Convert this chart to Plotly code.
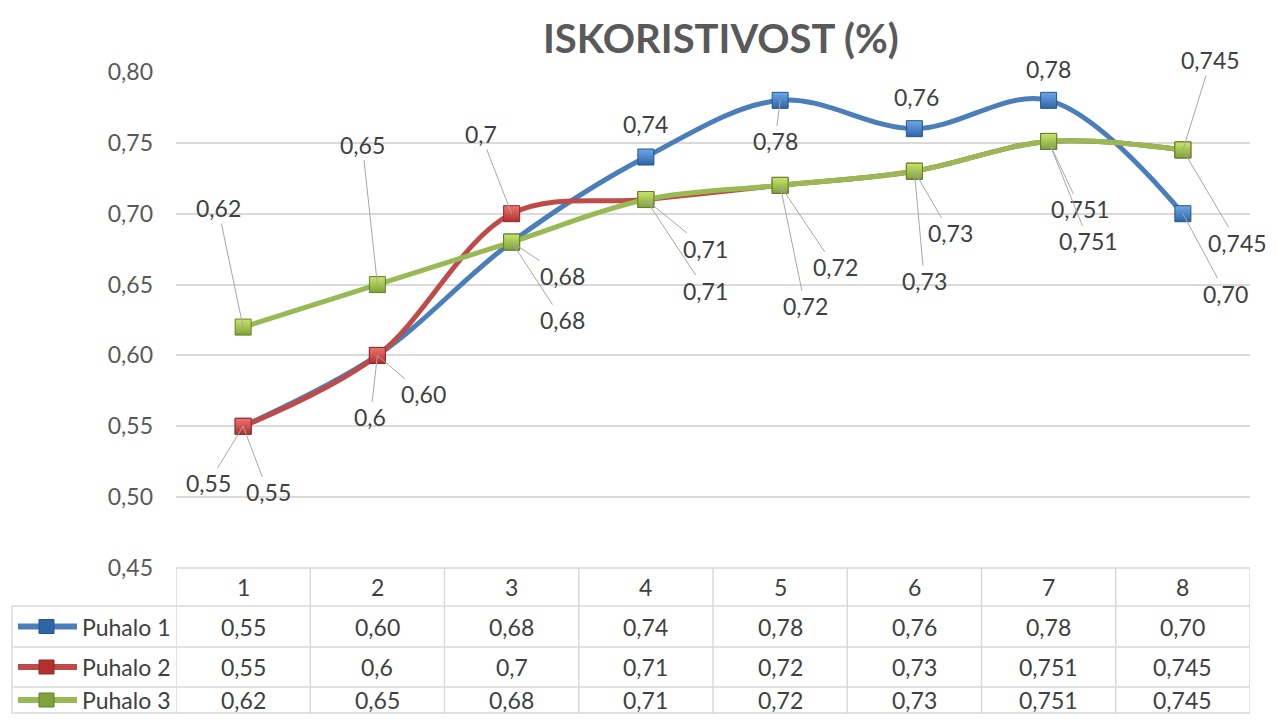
import plotly.graph_objects as go

# Datos
categorias = [1, 2, 3, 4, 5, 6, 7, 8]
puhalo_1 = [0.55, 0.60, 0.68, 0.74, 0.78, 0.76, 0.78, 0.70]
puhalo_2 = [0.55, 0.6, 0.7, 0.71, 0.72, 0.73, 0.751, 0.745]
puhalo_3 = [0.62, 0.65, 0.68, 0.71, 0.72, 0.73, 0.751, 0.745]
nombres = ["Puhalo 1", "Puhalo 2", "Puhalo 3"]
y_ticks = [0.45, 0.50, 0.55, 0.60, 0.65, 0.70, 0.75, 0.80]

# la página añade 8 px de margen alrededor del gráfico
W, H, OFF = 1277, 722, 8
FW, FH = W - 2 * OFF, H - 2 * OFF


def px(v):
    return (v - OFF) / FW


def py(v):
    return 1 - (v - OFF) / FH


def fmt(v, fijo):
    s = f"{v:.2f}" if fijo else repr(v)
    return s.replace(".", ",")


series = [
    dict(y=puhalo_1, fijo=True, line="#4a7ebb", mk="#6ea6e6", mk2="#2f65a8", borde="#25548c"),
    dict(y=puhalo_2, fijo=False, line="#be4b48", mk="#f07470", mk2="#b3302c", borde="#8c2a27"),
    dict(y=puhalo_3, fijo=False, line="#98b954", mk="#c8e66a", mk2="#7fa23a", borde="#637f2c"),
]

# desplazamiento (px) de cada etiqueta respecto al punto; 0 = sin línea guía
offsets = [
    [(25, 66, 1), (46, 39, 1), (51, 78, 1), (0, -33, 0), (-5, 41, 1), (2, -32, 0), (0, -31, 0), (43, 80, 1)],
    [(-35, 57, 1), (-7, 62, 1), (-31, -80, 1), (60, 49, 1), (55, 82, 1), (36, 62, 1), (32, 68, 1), (28, -90, 1)],
    [(-25, -119, 1), (-15, -140, 1), (51, 34, 1), (60, 91, 1), (25, 121, 1), (10, 110, 1), (40, 100, 1), (55, 93, 1)],
]

fuente = dict(family="Lato", size=23, color="#404040")

fig = go.Figure()
anotaciones = []
formas = []

for s, nombre, offs in zip(series, nombres, offsets):
    fig.add_trace(go.Scatter(
        x=categorias,
        y=s["y"],
        mode="lines+markers",
        name=nombre,
        line=dict(color=s["line"], width=5, shape="spline", smoothing=1),
        marker=dict(
            symbol="square",
            size=16,
            color=s["mk"],
            gradient=dict(type="vertical", color=s["mk2"]),
            line=dict(color=s["borde"], width=1),
        ),
        showlegend=False,
    ))
    for xi, v, (ax, ay, guia) in zip(categorias, s["y"], offs):
        anotaciones.append(dict(
            x=xi, y=v, xref="x", yref="y",
            text=fmt(v, s["fijo"]),
            showarrow=True, arrowhead=0, arrowwidth=1, standoff=0,
            arrowcolor="#a6a6a6" if guia else "rgba(0,0,0,0)",
            ax=ax, ay=ay,
            font=fuente,
        ))

# Tabla de datos
gris = "#d9d9d9"
filas = [(606, 647), (647, 687), (687, 713)]
for k in range(len(categorias) + 1):
    formas.append(dict(type="line", xref="x", yref="paper", x0=k + 0.5, x1=k + 0.5,
                       y0=py(568), y1=py(721), line=dict(color=gris, width=1.5)))
formas.append(dict(type="line", xref="paper", yref="paper", x0=px(12), x1=px(12),
                   y0=py(606), y1=py(721), line=dict(color=gris, width=1.5)))
formas.append(dict(type="line", xref="paper", yref="paper", x0=px(176), x1=px(1250),
                   y0=py(568), y1=py(568), line=dict(color=gris, width=1.5)))
for yy in [606, 647, 687, 713]:
    formas.append(dict(type="line", xref="paper", yref="paper", x0=px(12), x1=px(1250),
                       y0=py(yy), y1=py(yy), line=dict(color=gris, width=1.5)))

for xi in categorias:
    anotaciones.append(dict(x=xi, y=py(587), xref="x", yref="paper", text=str(xi),
                            xanchor="center", yanchor="middle", showarrow=False, font=fuente))

for s, nombre, (y0, y1) in zip(series, nombres, filas):
    yc = (y0 + y1) / 2
    formas.append(dict(type="line", xref="paper", yref="paper", x0=px(18), x1=px(77),
                       y0=py(yc), y1=py(yc), line=dict(color=s["line"], width=6)))
    formas.append(dict(type="rect", xref="paper", yref="paper", x0=px(39), x1=px(54),
                       y0=py(yc - 7), y1=py(yc + 7), fillcolor=s["mk2"],
                       line=dict(color=s["borde"], width=1)))
    anotaciones.append(dict(x=px(80), y=py(yc), xref="paper", yref="paper", text=nombre,
                            xanchor="left", yanchor="middle", showarrow=False, font=fuente))
    for xi, v in zip(categorias, s["y"]):
        anotaciones.append(dict(x=xi, y=py(yc), xref="x", yref="paper", text=fmt(v, s["fijo"]),
                                xanchor="center", yanchor="middle", showarrow=False, font=fuente))

# Título
anotaciones.append(dict(x=px(721), y=py(38), xref="paper", yref="paper",
                        text="<b>ISKORISTIVOST (%)</b>", showarrow=False,
                        xanchor="center", yanchor="middle",
                        font=dict(family="Lato", size=40, color="#595959")))

fig.update_layout(
    width=FW, height=FH,
    margin=dict(l=0, r=0, t=0, b=0, autoexpand=False),
    plot_bgcolor="white",
    paper_bgcolor="white",
    separators=",.",
    xaxis=dict(
        domain=[px(176), px(1250)],
        range=[0.5, 8.5],
        automargin=False,
        showticklabels=False, showgrid=False, zeroline=False, showline=False,
    ),
    yaxis=dict(
        domain=[py(568), py(72)],
        range=[0.45, 0.80],
        automargin=False,
        tickvals=y_ticks,
        tickformat=".2f",
        ticklabelstandoff=22,
        tickfont=dict(family="Lato", size=23, color="#595959"),
        showgrid=True, gridcolor=gris, gridwidth=1.5,
        zeroline=False, showline=False,
    ),
    shapes=formas,
    annotations=anotaciones,
)

fig.write_html("out.html", config={"responsive": False})
